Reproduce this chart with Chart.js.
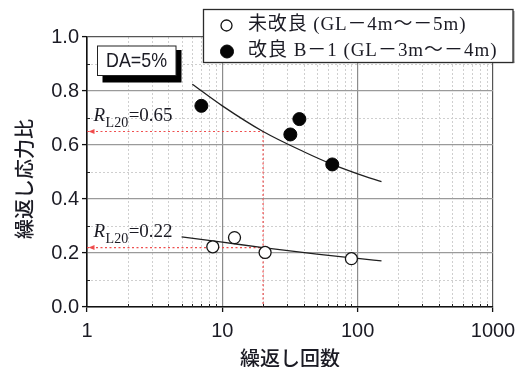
<!DOCTYPE html>
<html>
<head>
<meta charset="utf-8">
<script src="https://cdn.jsdelivr.net/npm/chart.js@4.4.1/dist/chart.umd.min.js"></script>
<style>
  html, body { margin: 0; padding: 0; background: #fff; }
  canvas { display: block; }
</style>
</head>
<body>
<canvas id="chart" width="528" height="367"></canvas>
<script>
// Cyclic stress ratio against number of cycles to DA = 5%
const unimprovedN = [8.5, 12.3, 20.7, 89.9];
const unimprovedR = [0.223, 0.257, 0.202, 0.179];
const improvedN = [7.0, 31.8, 37.1, 64.9];
const improvedR = [0.745, 0.639, 0.696, 0.528];

// Fitted strength curves
const fitUnimprovedN = [5, 10, 20, 50, 100, 150];
const fitUnimprovedR = [0.26, 0.24, 0.22, 0.196, 0.18, 0.171];
const fitImprovedN = [6, 10, 20, 40, 65, 100, 150];
const fitImprovedR = [0.825, 0.745, 0.65, 0.575, 0.528, 0.493, 0.464];

// Liquefaction strength at 20 cycles
const refCycles = 20;
const rl20Unimproved = 0.22;
const rl20Improved = 0.65;

const seriesLabels = ['未改良 (GL－4m～－5m)', '改良 B－1 (GL－3m～－4m)'];
const xTickValues = [1, 10, 100, 1000];
const xTickLabels = ['1', '10', '100', '1000'];
const xMinorValues = [2, 3, 4, 5, 6, 7, 8, 9, 20, 30, 40, 50, 60, 70, 80, 90, 200, 300, 400, 500, 600, 700, 800, 900];
const yTickValues = [0, 0.2, 0.4, 0.6, 0.8, 1.0];
const yTickLabels = ['0.0', '0.2', '0.4', '0.6', '0.8', '1.0'];
const yMinorValues = [0.1, 0.3, 0.5, 0.7, 0.9];
const xTitle = '繰返し回数';
const yTitle = '繰返し応力比';
const conditionLabel = 'DA=5%';

const TEXT = '#1b1b24';
const SANS = '"Liberation Sans", Arial, sans-serif';
const SERIF = '"Liberation Serif", "Times New Roman"';
const CJK = '"Noto Sans CJK JP", sans-serif';
const RED = 'rgba(238, 70, 70, 0.95)';

const pts = (xs, ys) => xs.map((x, i) => ({ x, y: ys[i] }));
const near = (a, b) => Math.abs(a - b) < 1e-6 * Math.max(1, Math.abs(b));
const xMajorIndex = v => xTickValues.findIndex(t => near(v, t));
const yMajorIndex = v => yTickValues.findIndex(t => near(v, t));

// Draw text so that it spans a given width (letter spacing, or squeeze if too wide)
function fitText(ctx, text, x, y, width, align) {
  ctx.save();
  const natural = ctx.measureText(text).width;
  const n = [...text].length;
  let startX = x;
  if (align === 'center') startX = x - width / 2;
  ctx.textAlign = 'left';
  if (natural <= width && 'letterSpacing' in ctx && n > 1) {
    ctx.letterSpacing = ((width - natural) / (n - 1)).toFixed(2) + 'px';
    ctx.fillText(text, startX, y);
  } else {
    ctx.translate(startX, y);
    ctx.scale(width / natural, 1);
    ctx.fillText(text, 0, 0);
  }
  ctx.restore();
}

const openStyle = { radius: 6, fill: '#ffffff', stroke: '#141414', width: 1.3 };
const solidStyle = { radius: 6.5, fill: '#050505', stroke: '#050505', width: 1 };

const extras = {
  id: 'extras',
  beforeDraw(chart) {
    const { ctx, chartArea: a, scales: { x, y } } = chart;
    ctx.save();
    ctx.fillStyle = '#fff';
    ctx.fillRect(0, 0, chart.width, chart.height);
    // dashed minor grid
    ctx.strokeStyle = '#cfcfcf';
    ctx.lineWidth = 1;
    ctx.setLineDash([2, 2]);
    ctx.beginPath();
    xMinorValues.forEach(v => {
      const px = Math.round(x.getPixelForValue(v)) + 0.5;
      ctx.moveTo(px, a.top); ctx.lineTo(px, a.bottom);
    });
    yMinorValues.forEach(v => {
      const py = Math.round(y.getPixelForValue(v)) + 0.5;
      ctx.moveTo(a.left, py); ctx.lineTo(a.right, py);
    });
    ctx.stroke();
    ctx.restore();
  },
  afterDatasetsDraw(chart) {
    const { ctx, scales: { x, y } } = chart;
    ctx.save();
    ctx.fillStyle = RED;
    [rl20Improved, rl20Unimproved].forEach(v => {
      const py = y.getPixelForValue(v);
      const tip = x.getPixelForValue(xTickValues[0]) + 1.5;
      ctx.beginPath();
      ctx.moveTo(tip, py);
      ctx.lineTo(tip + 6, py - 2.5);
      ctx.lineTo(tip + 6, py + 2.5);
      ctx.closePath();
      ctx.fill();
    });
    ctx.restore();
  },
  afterDraw(chart) {
    const { ctx, chartArea: a, scales: { x, y } } = chart;
    ctx.save();

    // small inward minor ticks
    ctx.strokeStyle = '#222';
    ctx.lineWidth = 1;
    ctx.beginPath();
    xMinorValues.forEach(v => {
      const px = Math.round(x.getPixelForValue(v)) + 0.5;
      ctx.moveTo(px, a.bottom); ctx.lineTo(px, a.bottom - 3);
    });
    yMinorValues.forEach(v => {
      const py = Math.round(y.getPixelForValue(v)) + 0.5;
      ctx.moveTo(a.left, py); ctx.lineTo(a.left + 3, py);
    });
    ctx.stroke();

    // R_L20 annotations
    ctx.fillStyle = TEXT;
    ctx.textBaseline = 'alphabetic';
    [rl20Improved, rl20Unimproved].forEach(v => {
      const py = y.getPixelForValue(v);
      let cx = 93.5;
      ctx.font = `italic 19px ${SERIF}, serif`;
      ctx.textAlign = 'left';
      ctx.fillText('R', cx, py - 10.5);
      cx += ctx.measureText('R').width + 0.5;
      ctx.font = `14px ${SERIF}, serif`;
      ctx.fillText('L20', cx, py - 4.5);
      cx += ctx.measureText('L20').width + 0.5;
      ctx.font = `19px ${SERIF}, serif`;
      ctx.fillText('=' + v.toFixed(2), cx, py - 10.5);
    });

    // DA box with drop shadow
    ctx.fillStyle = '#000';
    ctx.fillRect(102.5, 50, 79, 32.5);
    ctx.fillStyle = '#fff';
    ctx.fillRect(97.5, 46, 78.5, 29.5);
    ctx.strokeStyle = '#222';
    ctx.lineWidth = 1;
    ctx.strokeRect(97.5, 46, 78.5, 29.5);
    ctx.fillStyle = TEXT;
    ctx.textBaseline = 'middle';
    ctx.font = `21px "Liberation Sans Narrow", ${SANS}`;
    fitText(ctx, conditionLabel, 136.5, 61.5, 61, 'center');

    // legend box
    ctx.fillStyle = '#9a9a9a';
    ctx.fillRect(205, 61.5, 309.5, 1.6);
    ctx.fillRect(513, 11, 1.6, 52);
    ctx.fillStyle = '#fff';
    ctx.fillRect(203.5, 9.5, 309.5, 53);
    ctx.strokeStyle = '#2b2b2b';
    ctx.lineWidth = 1.3;
    ctx.strokeRect(203.5, 9.5, 309.5, 53);

    const rows = [
      { style: openStyle, cx: 226.5, cy: 25.5, width: 217.5 },
      { style: solidStyle, cx: 227, cy: 51.5, width: 248.5 }
    ];
    rows.forEach((r, i) => {
      ctx.beginPath();
      ctx.arc(r.cx, r.cy, r.style.radius - (i === 0 ? 0.5 : 0), 0, Math.PI * 2);
      ctx.fillStyle = r.style.fill;
      ctx.fill();
      ctx.lineWidth = r.style.width;
      ctx.strokeStyle = r.style.stroke;
      ctx.stroke();
      ctx.fillStyle = TEXT;
      ctx.textBaseline = 'middle';
      ctx.font = `19px ${SERIF}, "Noto Sans CJK JP", serif`;
      fitText(ctx, seriesLabels[i], 248, r.cy, r.width, 'left');
    });

    // axis titles
    ctx.fillStyle = TEXT;
    ctx.font = `500 20px ${CJK}`;
    ctx.textAlign = 'center';
    ctx.textBaseline = 'middle';
    ctx.fillText(xTitle, (a.left + a.right) / 2, 358);
    ctx.translate(24, 179);
    ctx.rotate(-Math.PI / 2);
    ctx.fillText(yTitle, 0, 0);
    ctx.restore();
  }
};

new Chart(document.getElementById('chart'), {
  type: 'scatter',
  data: {
    datasets: [
      {
        label: seriesLabels[0],
        data: pts(unimprovedN, unimprovedR),
        pointRadius: openStyle.radius,
        backgroundColor: openStyle.fill,
        borderColor: openStyle.stroke,
        borderWidth: openStyle.width,
        order: 0
      },
      {
        label: seriesLabels[1],
        data: pts(improvedN, improvedR),
        pointRadius: solidStyle.radius,
        backgroundColor: solidStyle.fill,
        borderColor: solidStyle.stroke,
        borderWidth: solidStyle.width,
        order: 0
      },
      {
        label: 'fit-unimproved',
        data: pts(fitUnimprovedN, fitUnimprovedR),
        showLine: true,
        pointRadius: 0,
        borderColor: '#202020',
        borderWidth: 1.3,
        cubicInterpolationMode: 'monotone',
        order: 1
      },
      {
        label: 'fit-improved',
        data: pts(fitImprovedN, fitImprovedR),
        showLine: true,
        pointRadius: 0,
        borderColor: '#202020',
        borderWidth: 1.3,
        cubicInterpolationMode: 'monotone',
        order: 1
      },
      {
        label: 'rl20-improved',
        data: [{ x: xTickValues[0], y: rl20Improved }, { x: refCycles, y: rl20Improved }, { x: refCycles, y: 0 }],
        showLine: true,
        pointRadius: 0,
        borderColor: RED,
        borderWidth: 1.2,
        borderDash: [2, 2.5],
        order: 2
      },
      {
        label: 'rl20-unimproved',
        data: [{ x: xTickValues[0], y: rl20Unimproved }, { x: refCycles, y: rl20Unimproved }],
        showLine: true,
        pointRadius: 0,
        borderColor: RED,
        borderWidth: 1.2,
        borderDash: [2, 2.5],
        order: 2
      }
    ]
  },
  options: {
    responsive: false,
    animation: false,
    devicePixelRatio: 1,
    layout: { padding: { left: 0, top: 37, right: 35, bottom: 0 } },
    plugins: { legend: { display: false }, tooltip: { enabled: false } },
    scales: {
      x: {
        type: 'logarithmic',
        min: 1,
        max: 1000,
        afterBuildTicks: s => {
          s.ticks = [...xTickValues, ...xMinorValues].sort((p, q) => p - q).map(v => ({ value: v }));
        },
        afterFit: s => { s.height = 60; },
        ticks: {
          autoSkip: false,
          maxRotation: 0,
          minRotation: 0,
          padding: 7,
          color: TEXT,
          font: { family: SANS, size: 20 },
          callback: v => { const i = xMajorIndex(v); return i >= 0 ? xTickLabels[i] : ''; }
        },
        grid: {
          lineWidth: 1.2,
          color: c => {
            const i = c.tick ? xMajorIndex(c.tick.value) : -1;
            if (i < 0) return 'rgba(0,0,0,0)';
            return i === xTickValues.length - 1 ? '#555' : '#8c8c8c';
          },
          tickLength: 5,
          tickWidth: 1.3,
          tickColor: c => (c.tick && xMajorIndex(c.tick.value) >= 0 ? '#111' : 'rgba(0,0,0,0)')
        },
        border: { color: '#111', width: 1.6 }
      },
      y: {
        type: 'linear',
        min: 0,
        max: 1,
        afterBuildTicks: s => {
          s.ticks = [...yTickValues, ...yMinorValues].sort((p, q) => p - q).map(v => ({ value: v }));
        },
        afterFit: s => { s.width = 87; },
        ticks: {
          padding: 3,
          color: TEXT,
          font: { family: SANS, size: 20 },
          callback: v => { const i = yMajorIndex(v); return i >= 0 ? yTickLabels[i] : ''; }
        },
        grid: {
          lineWidth: 1.2,
          color: c => {
            const i = c.tick ? yMajorIndex(c.tick.value) : -1;
            if (i < 0) return 'rgba(0,0,0,0)';
            return i === yTickValues.length - 1 ? '#555' : '#9a9a9a';
          },
          tickLength: 5,
          tickWidth: 1.3,
          tickColor: c => (c.tick && yMajorIndex(c.tick.value) >= 0 ? '#111' : 'rgba(0,0,0,0)')
        },
        border: { color: '#111', width: 1.6 }
      }
    }
  },
  plugins: [extras]
});
</script>
</body>
</html>
